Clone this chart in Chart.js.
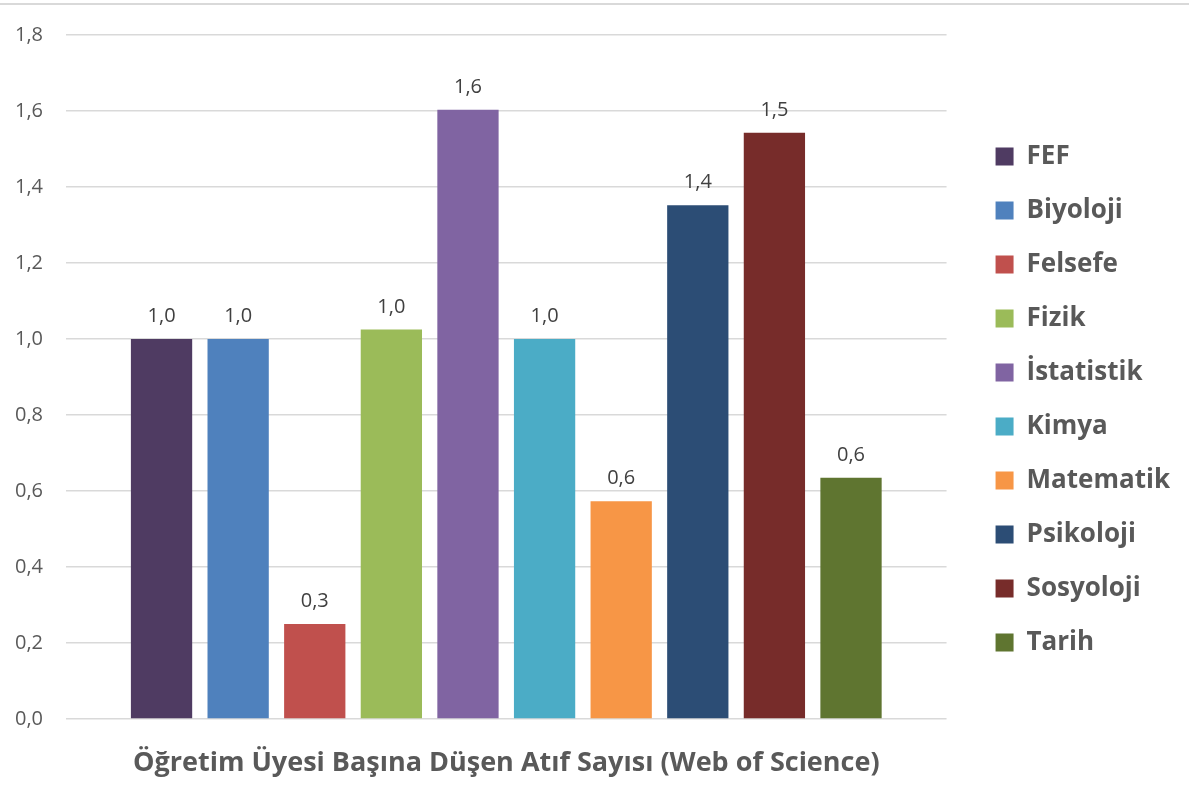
<!DOCTYPE html>
<html>
<head>
<meta charset="utf-8">
<script src="https://cdn.jsdelivr.net/npm/chart.js@4"></script>
<style>
  html, body { margin: 0; padding: 0; background: #fff; }
  #wrap { position: relative; width: 1189px; height: 795px; }
  #topline { position: absolute; left: 0; top: 3px; width: 1189px; height: 2px; background: #d9d9d9; }
</style>
</head>
<body>
<div id="wrap">
  <div id="topline"></div>
  <canvas id="chart" width="1189" height="795"></canvas>
</div>
<script>
// chart data
const categories = ['Öğretim Üyesi Başına Düşen Atıf Sayısı (Web of Science)'];
const departments = ['FEF', 'Biyoloji', 'Felsefe', 'Fizik', 'İstatistik', 'Kimya', 'Matematik', 'Psikoloji', 'Sosyoloji', 'Tarih'];
const citations = [1.0, 1.0, 0.25, 1.025, 1.603, 1.0, 0.573, 1.352, 1.543, 0.635];
const barColors = ['#4F3B62', '#4F81BD', '#C0504D', '#9BBB59', '#8064A2', '#4BACC6', '#F79646', '#2C4D75', '#772C2A', '#5F7530'];

const fontFamily = '"Open Sans", Lato, sans-serif';
const fmt = (v) => v.toFixed(1).replace('.', ',');

// draws the value above each bar
const valueLabels = {
  id: 'valueLabels',
  afterDatasetsDraw(chart) {
    const ctx = chart.ctx;
    ctx.save();
    ctx.font = '20px ' + fontFamily;
    ctx.fillStyle = '#404040';
    ctx.textAlign = 'center';
    ctx.textBaseline = 'alphabetic';
    chart.data.datasets.forEach((ds, i) => {
      const meta = chart.getDatasetMeta(i);
      meta.data.forEach((bar, j) => {
        ctx.fillText(fmt(ds.data[j]), bar.x, bar.y - 17);
      });
    });
    ctx.restore();
  }
};

// push the legend a bit away from the plot, like the original
const legendGap = {
  id: 'legendGap',
  afterLayout(chart) {
    chart.legend.left += 21;
    chart.legend.right += 21;
  }
};

const datasets = departments.map((name, i) => ({
  label: name,
  data: [citations[i]],
  backgroundColor: barColors[i],
  borderWidth: 0
}));

new Chart(document.getElementById('chart'), {
  type: 'bar',
  data: { labels: categories, datasets: datasets },
  plugins: [valueLabels, legendGap],
  options: {
    responsive: false,
    animation: false,
    categoryPercentage: 0.87,
    barPercentage: 0.8,
    layout: { padding: { top: 20, left: 15, right: 30, bottom: 16 } },
    plugins: {
      tooltip: { enabled: false },
      legend: {
        position: 'right',
        align: 'center',
        labels: {
          boxWidth: 18,
          boxHeight: 18,
          padding: 28,
          color: '#595959',
          font: { family: fontFamily, size: 26, weight: 'bold' }
        }
      }
    },
    scales: {
      x: {
        grid: { display: false, drawTicks: false },
        border: { display: false },
        afterFit: (s) => { s.height = 60; },
        ticks: {
          padding: 28,
          maxRotation: 0,
          minRotation: 0,
          color: '#595959',
          font: { family: fontFamily, size: 27, weight: 'bold' }
        }
      },
      y: {
        min: 0,
        max: 1.8,
        grid: { color: '#d9d9d9', lineWidth: 1.5, drawTicks: false },
        border: { display: false },
        afterFit: (s) => { s.width = 51; },
        ticks: {
          stepSize: 0.2,
          padding: 23,
          color: '#595959',
          font: { family: fontFamily, size: 20 },
          callback: (v) => fmt(v)
        }
      }
    }
  }
});
</script>
</body>
</html>
